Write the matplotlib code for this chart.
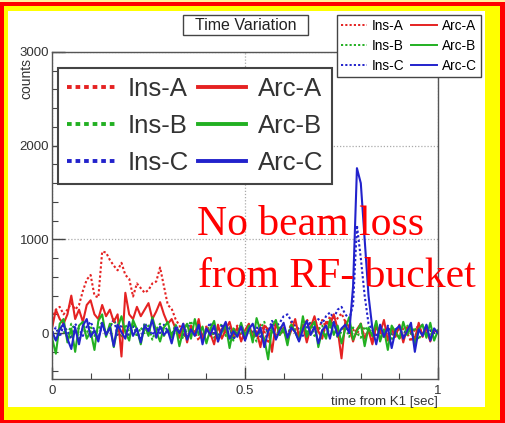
import numpy as np
import matplotlib
matplotlib.use("Agg")
import matplotlib.pyplot as plt
from matplotlib.lines import Line2D
from matplotlib.patches import Rectangle
from matplotlib.ticker import MultipleLocator

# ---------------- data ----------------
time = np.round(np.arange(101) / 100.0, 2)

ins_a = [150, 250, 280, 200, 250, 320, 250, 300, 450, 570,
         620, 400, 380, 870, 860, 780, 720, 670, 750, 620,
         580, 390, 530, 480, 430, 460, 530, 550, 700, 500,
         300, 260, 150, 80, 20, -40, 60, 10, -80, 40,
         70, -30, 20, -90, 50, 0, -60, 30, 80, -20,
         -70, 40, 10, -40, 90, 20, -110, 30, -20, 60,
         0, -50, 120, 40, -30, 80, 150, 60, 100, 30,
         140, 60, 180, 90, 160, 210, 120, 60, 40, -20,
         100, -50, 30, -80, 60, 10, -40, 70, -30, 20,
         -60, 50, 0, -90, 40, 80, -40, 20, -70, 30,
         10]

arc_a = [50, 250, 150, 100, 200, 400, 150, 250, 120, 300,
         350, 200, 150, 300, 180, 250, 120, 200, -250, 430,
         200, 150, 280, 180, 250, 320, 150, 230, 330, 200,
         100, 150, 50, -50, 100, -100, 80, -20, 150, -80,
         60, 0, -120, 90, -60, 40, 120, -30, 60, -90,
         30, 100, -50, 20, -150, 80, 40, -200, 110, -20,
         60, -70, 30, 150, -40, 90, -100, 60, 180, 20,
         -60, 120, 80, 200, 40, -270, 130, 60, -90, 40,
         100, -60, 30, -120, 80, 0, 140, -80, 50, -40,
         90, -100, 60, 20, -70, 110, -30, 50, -90, 40,
         0]

ins_b = [0, -80, 60, 20, -40, 100, 30, -60, 50, 0,
         80, -30, 40, 120, -20, 60, 150, 40, -50, 90,
         20, 110, -40, 60, 0, 80, -70, 40, 100, -30,
         50, -20, 90, 10, -60, 40, 130, -10, 70, -40,
         20, 90, -50, 30, 100, -30, 60, -80, 40, 10,
         -40, 70, 0, -90, 50, 120, -20, 40, -60, 80,
         10, -40, 100, 30, -70, 60, 0, 110, -30, 40,
         80, -20, 50, 130, -60, 20, 90, -40, 60, 0,
         -50, 70, 20, -30, 100, -60, 40, 10, -80, 50,
         30, -40, 90, -10, 60, -70, 20, 80, -30, 40,
         0]

arc_b = [-50, -220, 100, 150, -100, 50, -200, 80, 120, -60,
         20, -180, 130, 200, -40, 100, -150, 60, 180, 10,
         -80, 140, 40, -120, 90, -30, 170, 20, -90, 60,
         120, -50, 80, -140, 30, 100, -60, 150, -20, 70,
         -110, 40, 130, -70, 10, 90, -160, 50, -30, 110,
         -40, 80, -100, 160, 20, -60, -280, 70, 140, -20,
         50, -130, 90, 10, -80, 180, -40, 60, 120, -150,
         30, -60, 140, -20, 80, -110, 50, 170, -70, 20,
         100, -140, 60, -30, 130, -90, 40, -180, 80, 10,
         -60, 120, -20, 70, -130, 40, 90, -50, 110, -80,
         30]

ins_c = [0, 60, -40, 80, 20, -60, 100, 40, -30, 70,
         120, 30, -50, 80, 0, 60, 150, -20, 90, 30,
         -40, 70, 10, -80, 110, 40, -20, 60, 0, 90,
         20, -60, 80, 30, -40, 100, 50, -10, 70, -30,
         40, 110, 0, -50, 80, 20, 60, -70, 30, 90,
         -20, 50, 0, 80, -40, 60, 20, 130, 70, 110,
         180, 200, 130, 80, 40, -30, 60, 120, 90, 150,
         100, 180, 220, 160, 250, 280, 200, 150, 300, 1150,
         800, 400, 100, 30, -40, 60, 0, 80, -20, 40,
         70, -30, 50, 10, -60, 40, 90, -20, 30, 0,
         20]

arc_c = [20, -80, 40, 100, -60, -170, 60, -120, 80, 150,
         -40, 30, -90, 110, -20, 60, -140, 90, 10, -60,
         120, -30, 50, -100, 80, 20, 140, -50, 70, -20,
         30, -110, 60, 0, 100, -70, 40, -30, 90, -120,
         50, -20, 80, -90, 30, 120, -60, 20, -40, 70,
         -80, 40, 100, -30, 60, -150, 20, 90, -70, 30,
         110, -50, 60, 10, -90, 40, 130, -20, 70, -110,
         30, 80, -60, 120, -30, 50, 90, 0, 500, 1760,
         1600, 1000, 400, 50, -120, 90, -40, 60, -160, 30,
         80, -60, 20, 110, -200, 40, -30, 90, -80, 50,
         0]

labels = ["Ins-A", "Ins-B", "Ins-C", "Arc-A", "Arc-B", "Arc-C"]
series = [ins_a, ins_b, ins_c, arc_a, arc_b, arc_c]
colors = ["#e52222", "#22b022", "#2222cc", "#e52222", "#22b022", "#2222cc"]
styles = ["dotted", "dotted", "dotted", "solid", "solid", "solid"]

# ---------------- figure ----------------
W, H = 505, 423
fig = plt.figure(figsize=(W / 100, H / 100), dpi=100)
fig.patch.set_facecolor("#ff0000")

def fx(px):
    return px / W

def fy(py):
    return 1 - py / H

sans = "Liberation Sans"

fig.patches.append(Rectangle((fx(0), fy(2.5)), 1, 2.5 / H, transform=fig.transFigure,
                             facecolor="#fff2a0", edgecolor="none", zorder=-20))
fig.patches.append(Rectangle((fx(4), fy(420)), (500 - 4) / W, (420 - 6) / H,
                             transform=fig.transFigure, facecolor="#ffff00",
                             edgecolor="none", zorder=-19))
fig.patches.append(Rectangle((fx(8), fy(407)), (485 - 8) / W, (407 - 11) / H,
                             transform=fig.transFigure, facecolor="white",
                             edgecolor="none", zorder=-18))

ax = fig.add_axes([fx(52), fy(379), fx(438) - fx(52), fy(52) - fy(379)])
ax.set_facecolor("white")

dotted = (0, (1.1, 1.1))
for y, c, s in zip(series, colors, styles):
    ax.plot(time, y, color=c, lw=1.5, linestyle=dotted if s == "dotted" else "-")

ax.set_xlim(0, 1)
ax.set_ylim(-490, 3000)
ax.xaxis.set_major_locator(MultipleLocator(0.5))
ax.xaxis.set_minor_locator(MultipleLocator(0.1))
ax.yaxis.set_major_locator(MultipleLocator(1000))
ax.yaxis.set_minor_locator(MultipleLocator(200))
ax.tick_params(which="both", direction="in", top=False, right=False, color="#444",
               labelsize=9.5, labelcolor="#333", pad=2)
ax.tick_params(which="major", length=9, width=1)
ax.tick_params(which="minor", length=4.5, width=0.8)
ax.set_yticks([0, 1000, 2000, 3000])
ax.set_yticklabels(["0", "1000", "2000", "3000"], fontfamily=sans)
ax.set_xticks([0, 0.5, 1])
ax.set_xticklabels(["0", "0.5", "1"], fontfamily=sans)
ax.tick_params(axis="x", pad=4)
for sp in ax.spines.values():
    sp.set_color("#555")
    sp.set_linewidth(1.0)
ax.grid(True, which="major", linestyle=(0, (1, 1.5)), color="#aaaaaa", lw=0.9)

fig.text(fx(26), fy(58), "counts", rotation=90, ha="center", va="top",
         fontsize=10, family=sans, color="#333")
fig.text(fx(438), fy(402), "time from K1 [sec]", ha="right", va="center",
         fontsize=9.5, family=sans, color="#333")

# title box
fig.patches.append(Rectangle((fx(183), fy(35)), (308 - 183) / W, 20 / H,
                             transform=fig.transFigure, facecolor="white",
                             edgecolor="#444", lw=1.0, zorder=9))
fig.text(fx(245.5), fy(25), "Time Variation", ha="center", va="center",
         fontsize=11.5, family=sans, color="#222", zorder=10)

# small legend
small_handles = [Line2D([], [], color=c, lw=1.4, linestyle=dotted if s == "dotted" else "-")
                 for c, s in zip(colors, styles)]
leg1 = fig.legend(small_handles, labels, ncol=2, loc="upper left",
                  bbox_to_anchor=(fx(337), fy(15)), bbox_transform=fig.transFigure,
                  borderaxespad=0, fancybox=False, frameon=True,
                  prop={"family": sans, "size": 9.8}, handlelength=1.9,
                  handletextpad=0.35, columnspacing=0.5, labelspacing=0.42,
                  borderpad=0.3, framealpha=1)
leg1.get_frame().set_edgecolor("#444")
leg1.get_frame().set_linewidth(1.0)
leg1.set_zorder(10)

# big legend
big_handles = [Line2D([], [], color=c, lw=2.8, linestyle=(0, (1.2, 1.0)) if s == "dotted" else "-")
               for c, s in zip(colors, styles)]
leg2 = fig.legend(big_handles, labels, ncol=2, loc="upper left",
                  bbox_to_anchor=(fx(58), fy(68)), bbox_transform=fig.transFigure,
                  borderaxespad=0, fancybox=False, frameon=True,
                  prop={"family": sans, "size": 18.5}, handlelength=1.9,
                  handletextpad=0.45, columnspacing=0.35, labelspacing=0.5,
                  borderpad=0.35, framealpha=1)
for t in leg2.get_texts():
    t.set_color("#333")
leg2.get_frame().set_edgecolor("#444")
leg2.get_frame().set_linewidth(1.5)
leg2.set_zorder(9)

# red annotation
fig.text(fx(197), fy(235), "No beam loss", ha="left", va="baseline",
         fontsize=30, family="Liberation Serif", color="#ff0000", zorder=12)
fig.text(fx(198), fy(287), "from RF- bucket", ha="left", va="baseline",
         fontsize=30, family="Liberation Serif", color="#ff0000", zorder=12)

fig.savefig("out.png", dpi=100, facecolor=fig.get_facecolor())
